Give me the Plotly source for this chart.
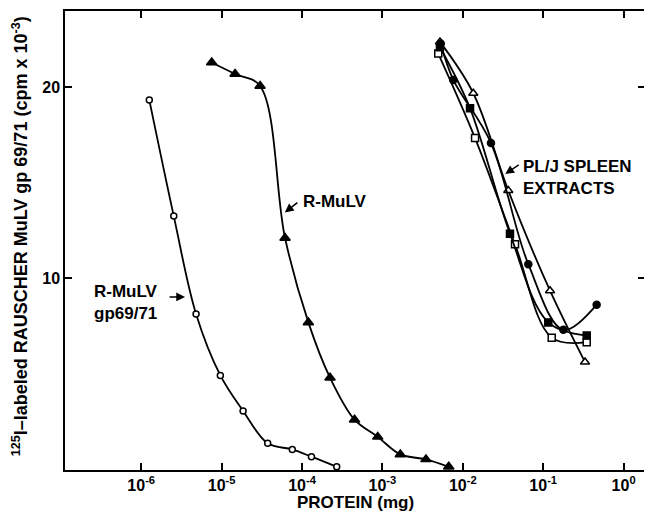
import plotly.graph_objects as go

# ---------------- data ----------------
# R-MuLV gp69/71 (open circles)
gp_x = [1.26e-6, 2.54e-6, 4.81e-6, 9.64e-6, 1.85e-5, 3.74e-5, 7.57e-5, 1.31e-4, 2.70e-4]
gp_y = [19.34, 13.25, 8.12, 4.90, 3.04, 1.34, 1.02, 0.64, 0.11]

# R-MuLV (filled triangles)
rm_x = [7.53e-6, 1.47e-5, 3.01e-5, 6.15e-5, 1.20e-4, 2.23e-4, 4.50e-4, 8.75e-4, 1.67e-3, 3.48e-3, 6.68e-3]
rm_y = [21.30, 20.70, 20.07, 12.1, 7.68, 4.78, 2.58, 1.68, 0.76, 0.50, 0.11]

# PL/J spleen extracts
fc_x = [5.3e-3, 7.62e-3, 0.0224, 0.0653, 0.178, 0.462]      # filled circles
fc_y = [22.3, 20.39, 17.08, 10.73, 7.29, 8.61]
ot_x = [5.2e-3, 0.0135, 0.0368, 0.1216, 0.331]               # open triangles
ot_y = [22.38, 19.69, 14.59, 9.34, 5.60]
os_x = [4.95e-3, 0.0142, 0.0446, 0.1276, 0.3475]             # open squares
os_y = [21.77, 17.34, 11.77, 6.88, 6.64]
fs_x = [5.2e-3, 0.0123, 0.0386, 0.1156, 0.3475]              # filled squares
fs_y = [22.1, 18.90, 12.33, 7.68, 6.99]

x_tickvals = [1e-6, 1e-5, 1e-4, 1e-3, 1e-2, 1e-1, 1e0]
x_ticktext = ["10<sup>-6</sup>", "10<sup>-5</sup>", "10<sup>-4</sup>", "10<sup>-3</sup>",
              "10<sup>-2</sup>", "10<sup>-1</sup>", "10<sup>0</sup>"]
y_tickvals = [10, 20]
y_ticktext = ["10", "20"]

# ---------------- figure ----------------
FONT = "Liberation Sans, Arial, Helvetica, sans-serif"
fig = go.Figure()

def add(xs, ys, symbol, fill, size):
    fig.add_trace(go.Scatter(
        x=xs, y=ys, mode="lines+markers",
        line=dict(color="black", width=1.8, shape="spline", smoothing=1.0),
        marker=dict(symbol=symbol, size=size, color=fill,
                    line=dict(color="black", width=1.5)),
        showlegend=False, hoverinfo="skip"))

add(gp_x, gp_y, "circle", "white", 6)
add(rm_x, rm_y, "triangle-up", "black", 9)
add(os_x, os_y, "square", "white", 7)
add(fs_x, fs_y, "square", "black", 7)
add(ot_x, ot_y, "triangle-up", "white", 8)
add(fc_x, fc_y, "circle", "black", 7)

tickfont = dict(family=FONT, size=16, color="black", weight="bold")
fig.update_xaxes(type="log", range=[-6.948, 0.266], tickvals=x_tickvals, ticktext=x_ticktext,
                 ticks="inside", ticklen=7, tickwidth=1.5, tickcolor="black",
                 showline=True, linewidth=1.5, linecolor="black", mirror="ticks",
                 showgrid=False, zeroline=False, tickfont=tickfont)
fig.update_yaxes(range=[-0.057, 24.0], tickvals=y_tickvals, ticktext=y_ticktext,
                 ticks="inside", ticklen=7, tickwidth=1.5, tickcolor="black",
                 showline=True, linewidth=1.5, linecolor="black", mirror="ticks",
                 showgrid=False, zeroline=False, tickfont=tickfont)

lab = dict(family=FONT, size=17, color="black", weight="bold")
annos = [
    dict(x=-0.0776, y=0.509, xref="paper", yref="paper", textangle=-90,
         text="<sup>125</sup>I–labeled RAUSCHER MuLV gp 69/71 (cpm x 10<sup>-3</sup>)",
         showarrow=False, xanchor="center", yanchor="middle",
         font=dict(family=FONT, size=18, color="black", weight="bold")),
    dict(x=0.5, y=-0.071, xref="paper", yref="paper", text="PROTEIN (mg)",
         showarrow=False, xanchor="center", yanchor="middle", font=lab),
    dict(x=0.407, y=0.584, xref="paper", yref="paper", text="R-MuLV",
         showarrow=False, xanchor="left", yanchor="middle", font=lab),
    dict(x=0.046, y=0.364, xref="paper", yref="paper", text="R-MuLV<br>gp69/71",
         showarrow=False, xanchor="left", yanchor="middle", align="left", font=lab),
    dict(x=0.787, y=0.638, xref="paper", yref="paper", text="PL/J SPLEEN<br>EXTRACTS",
         showarrow=False, xanchor="left", yanchor="middle", align="left", font=lab),
]
for tip, off in [((0.379, 0.561), (14, -11)), ((0.207, 0.377), (-17, 0)), ((0.759, 0.645), (15, -10))]:
    annos.append(dict(x=tip[0], y=tip[1], xref="paper", yref="paper", text="",
                      showarrow=True, ax=off[0], ay=off[1], arrowhead=2, arrowsize=1.1,
                      arrowwidth=1.6, arrowcolor="black"))
fig.update_layout(annotations=annos)

# the page body adds an 8px margin, so the figure is drawn 8px smaller and
# its plot area is shifted back by 8px to land where the reference has it
fig.update_layout(width=644, height=510, margin=dict(l=57, r=7, t=1, b=48),
                  paper_bgcolor="white", plot_bgcolor="white",
                  font=dict(family=FONT, color="black"))

fig.write_html("out.html")
